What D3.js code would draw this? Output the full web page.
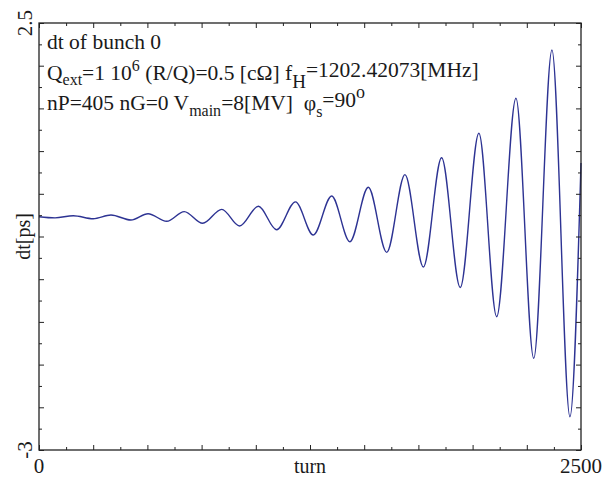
<!DOCTYPE html>
<html>
<head>
<meta charset="utf-8">
<script src="https://cdn.jsdelivr.net/npm/d3@7"></script>
<style>
  html, body { margin: 0; padding: 0; background: #fff; }
  svg { display: block; }
  text { font-family: "Liberation Serif", "Times New Roman", serif; fill: #1a1a1a; }
</style>
</head>
<body>
<script>
// ---- data (extrema of the oscillation) ----
const turns = [0, 74, 158, 250, 332, 424, 503, 589, 670, 755, 843, 925, 1012, 1096, 1183, 1265,
               1350, 1434, 1519, 1604, 1688, 1773, 1857, 1943, 2029, 2111, 2200, 2282, 2366, 2449, 2500];
const dtValues = [0.005, -0.010, 0.018, -0.021, 0.027, -0.038, 0.044, -0.054, 0.071, -0.080, 0.100,
                  -0.115, 0.139, -0.163, 0.196, -0.231, 0.272, -0.317, 0.384, -0.454, 0.547, -0.643,
                  0.765, -0.907, 1.079, -1.283, 1.530, -1.819, 2.152, -2.571, 0.697];

const xDomain = [0, 2500];
const yDomain = [-3, 2.5];
const xTickLabels = [0, 2500];
const yTickLabels = [-3, 2.5];
const xMajorTicks = [0, 250, 500, 750, 1000, 1250, 1500, 1750, 2000, 2250, 2500];
const xMinorTicks = [125, 375, 625, 875, 1125, 1375, 1625, 1875, 2125, 2375];
const yMajorTicks = [-3, -2.45, -1.9, -1.35, -0.8, -0.25, 0.3, 0.85, 1.4, 1.95, 2.5];
const yMinorTicks = [-2.725, -2.175, -1.625, -1.075, -0.525, 0.025, 0.575, 1.125, 1.675, 2.225];

// ---- layout ----
const W = 608, H = 477;
const L = 39, R = 581, T = 23, B = 450;

const svg = d3.select("body").append("svg").attr("width", W).attr("height", H);
svg.append("rect").attr("width", W).attr("height", H).attr("fill", "#fff");

const x = d3.scaleLinear().domain(xDomain).range([L, R]);
const y = d3.scaleLinear().domain(yDomain).range([B, T]);

// ---- curve ----
const pts = turns.map((t, i) => [t, dtValues[i]]);
const line = d3.line().x(d => x(d[0])).y(d => y(d[1])).curve(d3.curveMonotoneX);
svg.append("path").datum(pts)
  .attr("d", line)
  .attr("fill", "none")
  .attr("stroke", "#2d3393")
  .attr("stroke-width", 1.4);

// ---- axes (ticks pointing inward on all four sides) ----
function styleAxis(g) {
  g.selectAll("path.domain").remove();
  g.selectAll("line").attr("stroke", "#222").attr("stroke-width", 1);
}
const axes = [
  [d3.axisBottom(x), `translate(0,${B})`, xMajorTicks, xMinorTicks],
  [d3.axisTop(x), `translate(0,${T})`, xMajorTicks, xMinorTicks],
  [d3.axisLeft(y), `translate(${L},0)`, yMajorTicks, yMinorTicks],
  [d3.axisRight(y), `translate(${R},0)`, yMajorTicks, yMinorTicks]
];
axes.forEach(([ax, tr, maj, min]) => {
  svg.append("g").attr("transform", tr)
    .call(ax.tickValues(maj).tickSize(-5).tickSizeOuter(0).tickFormat(""))
    .call(styleAxis);
  svg.append("g").attr("transform", tr)
    .call(ax.tickValues(min).tickSize(-3).tickSizeOuter(0).tickFormat(""))
    .call(styleAxis);
});
svg.append("rect")
  .attr("x", L).attr("y", T).attr("width", R - L).attr("height", B - T)
  .attr("fill", "none").attr("stroke", "#222").attr("stroke-width", 1.3);

// ---- tick labels ----
svg.selectAll("text.xl").data(xTickLabels).enter().append("text")
  .attr("x", d => x(d)).attr("y", 473)
  .attr("text-anchor", "middle").attr("font-size", 21)
  .text(d => d);
svg.selectAll("text.yl").data(yTickLabels).enter().append("text")
  .attr("transform", d => `translate(32,${y(d)}) rotate(-90)`)
  .attr("text-anchor", "middle").attr("font-size", 21)
  .text(d => d);

// ---- axis titles ----
svg.append("text").attr("x", x(1250)).attr("y", 473)
  .attr("text-anchor", "middle").attr("font-size", 20).text("turn");
svg.append("text").attr("transform", `translate(30,${(T + B) / 2}) rotate(-90)`)
  .attr("text-anchor", "middle").attr("font-size", 20).text("dt[ps]");

// ---- annotation ----
const fs = 21.5, fsSub = 16;
svg.append("text").attr("x", 47).attr("y", 49).attr("font-size", fs).text("dt of bunch 0");

const l2 = svg.append("text").attr("x", 47).attr("y", 80).attr("font-size", fs);
l2.append("tspan").text("Q");
l2.append("tspan").attr("font-size", fsSub).attr("dy", 5).text("ext");
l2.append("tspan").attr("dy", -5).text("=1 10");
l2.append("tspan").attr("font-size", fsSub).attr("dy", -9).text("6");
l2.append("tspan").attr("dy", 9).text(" (R/Q)=0.5 [cΩ] f");
l2.append("tspan").attr("font-size", 19).attr("dy", 8).text("H");
l2.append("tspan").attr("dy", -11).text("=1202.42073[MHz]");

const l3 = svg.append("text").attr("x", 47).attr("y", 110).attr("font-size", fs);
l3.append("tspan").text("nP=405 nG=0 V");
l3.append("tspan").attr("font-size", fsSub).attr("dy", 6).text("main");
l3.append("tspan").attr("dy", -6).text("=8[MV]\u00a0 φ");
l3.append("tspan").attr("font-size", fsSub).attr("dy", 7).text("s");
l3.append("tspan").attr("dy", -10).text("=90");
l3.append("tspan").attr("font-size", 18).attr("dy", -9).text("o");
</script>
</body>
</html>
